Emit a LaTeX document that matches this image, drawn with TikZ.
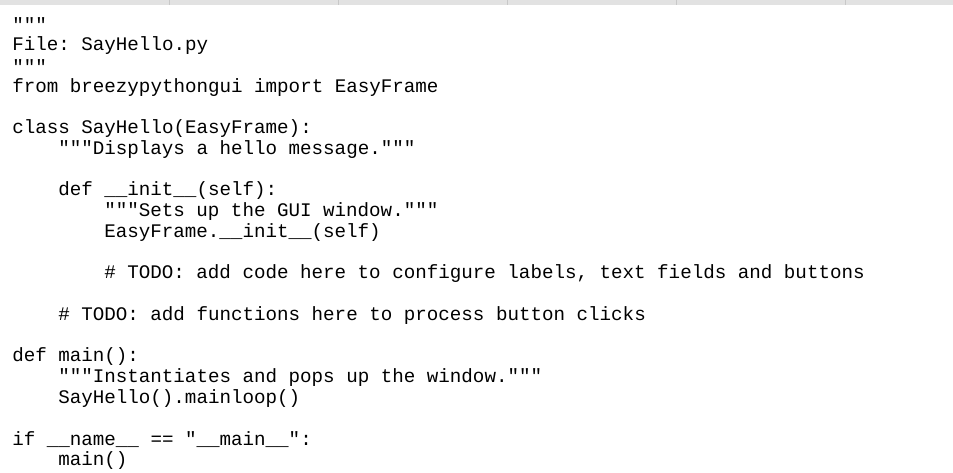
\documentclass[tikz,border=0pt]{standalone}
\usepackage{fontspec}
\setmonofont{Liberation Mono}
\definecolor{barfill}{HTML}{E2E2E2}
\definecolor{barline}{HTML}{C8C8C8}
\tikzset{
  code/.style={anchor=west, inner sep=0pt, font=\fontsize{14.4}{15}\selectfont\ttfamily},
}
\begin{document}
\begin{tikzpicture}[x=0.75pt,y=-0.75pt]
\useasboundingbox (0,0) rectangle (953,473);
\fill[barfill] (0,0) rectangle (953,5);
\foreach \x in {169,338,507,676,845} {
\draw[barline] (\x,0) -- (\x,5);
}

\node[code] (l0) at (12,25) {"""};
\node[code] (l1) at (12,45.75) {File: SayHello.py};
\node[code] (l2) at (12,66.5) {"""};
\node[code] (l3) at (12,87.25) {from breezypythongui import EasyFrame};
\node[code] (l5) at (12,128.75) {class SayHello(EasyFrame):};
\node[code] (l6) at (58,149.5) {"""Displays a hello message."""};
\node[code] (l8) at (58,191) {def \_\_init\_\_(self):};
\node[code] (l9) at (104,211.75) {"""Sets up the GUI window."""};
\node[code] (l10) at (104,232.5) {EasyFrame.\_\_init\_\_(self)};
\node[code] (l12) at (104,274) {\# TODO: add code here to configure labels, text fields and buttons};
\node[code] (l14) at (58,315.5) {\# TODO: add functions here to process button clicks};
\node[code] (l16) at (12,357) {def main():};
\node[code] (l17) at (58,377.75) {"""Instantiates and pops up the window."""};
\node[code] (l18) at (58,398.5) {SayHello().mainloop()};
\node[code] (l20) at (12,440) {if \_\_name\_\_ == "\_\_main\_\_":};
\node[code] (l21) at (58,460.75) {main()};
\end{tikzpicture}
\end{document}
